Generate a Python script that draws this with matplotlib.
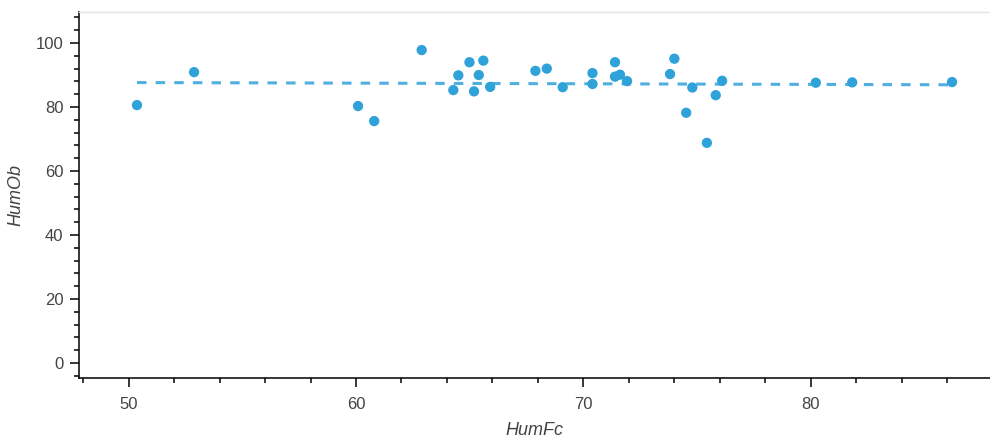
import numpy as np
import matplotlib.pyplot as plt
from matplotlib.ticker import MultipleLocator

# forecast vs observed humidity
hum_fc = [50.37, 52.88, 60.09, 60.80, 62.89, 64.28, 64.50, 64.99, 65.19, 65.40, 65.60, 65.90,
          67.89, 68.39, 69.09, 70.40, 70.40, 71.39, 71.39, 71.61, 71.92, 73.81, 74.00, 74.52,
          74.79, 75.43, 75.82, 76.10, 80.22, 81.82, 86.21]
hum_ob = [80.6, 90.9, 80.3, 75.6, 97.8, 85.3, 89.9, 94.0, 84.9, 90.0, 94.5, 86.3,
          91.3, 92.0, 86.2, 90.6, 87.2, 94.0, 89.5, 90.1, 88.1, 90.3, 95.1, 78.2,
          86.1, 68.8, 83.7, 88.2, 87.6, 87.7, 87.8]

# trend line as drawn in the source chart (ends at min / max HumFc)
trend_ob = [87.65, 86.95]

color = '#30a2da'
text_color = '#444444'

plt.rcParams['font.family'] = ['Liberation Sans', 'DejaVu Sans']

fig = plt.figure(figsize=(9.9, 4.4), dpi=100)
ax = fig.add_axes([79 / 990, 1 - 378 / 440, 911 / 990, 366 / 440])

ax.scatter(hum_fc, hum_ob, s=55, color=color, edgecolors='none', zorder=3)

xs = [min(hum_fc), max(hum_fc)]
ax.plot(xs, trend_ob, color=color, alpha=0.85, lw=2.2,
        dashes=(3.1, 3.0), zorder=2)

ax.set_xlim(47.82, 87.88)
ax.set_ylim(-4.7, 109.7)

ax.xaxis.set_major_locator(MultipleLocator(10))
ax.xaxis.set_minor_locator(MultipleLocator(2))
ax.yaxis.set_major_locator(MultipleLocator(20))
ax.yaxis.set_minor_locator(MultipleLocator(4))

for side in ['left', 'bottom']:
    ax.spines[side].set_linewidth(1.1)
    ax.spines[side].set_color('black')
ax.spines['right'].set_visible(False)
ax.spines['top'].set_color('#e5e5e5')
ax.spines['top'].set_linewidth(1)

ax.tick_params(which='major', direction='out', length=6.5, width=1.1,
               labelsize=12, labelcolor=text_color)
ax.tick_params(axis='y', which='major', pad=4.8)
ax.tick_params(axis='x', which='major', pad=7)
ax.tick_params(which='minor', direction='out', length=3.6, width=1.1)

ax.set_xlabel('HumFc', fontsize=13, style='italic', color=text_color)
ax.set_ylabel('HumOb', fontsize=13, style='italic', color=text_color)
ax.xaxis.set_label_coords(0.4995, -0.120)
ax.yaxis.set_label_coords(-0.060, 0.5)

fig.savefig('out.png', dpi=100)
